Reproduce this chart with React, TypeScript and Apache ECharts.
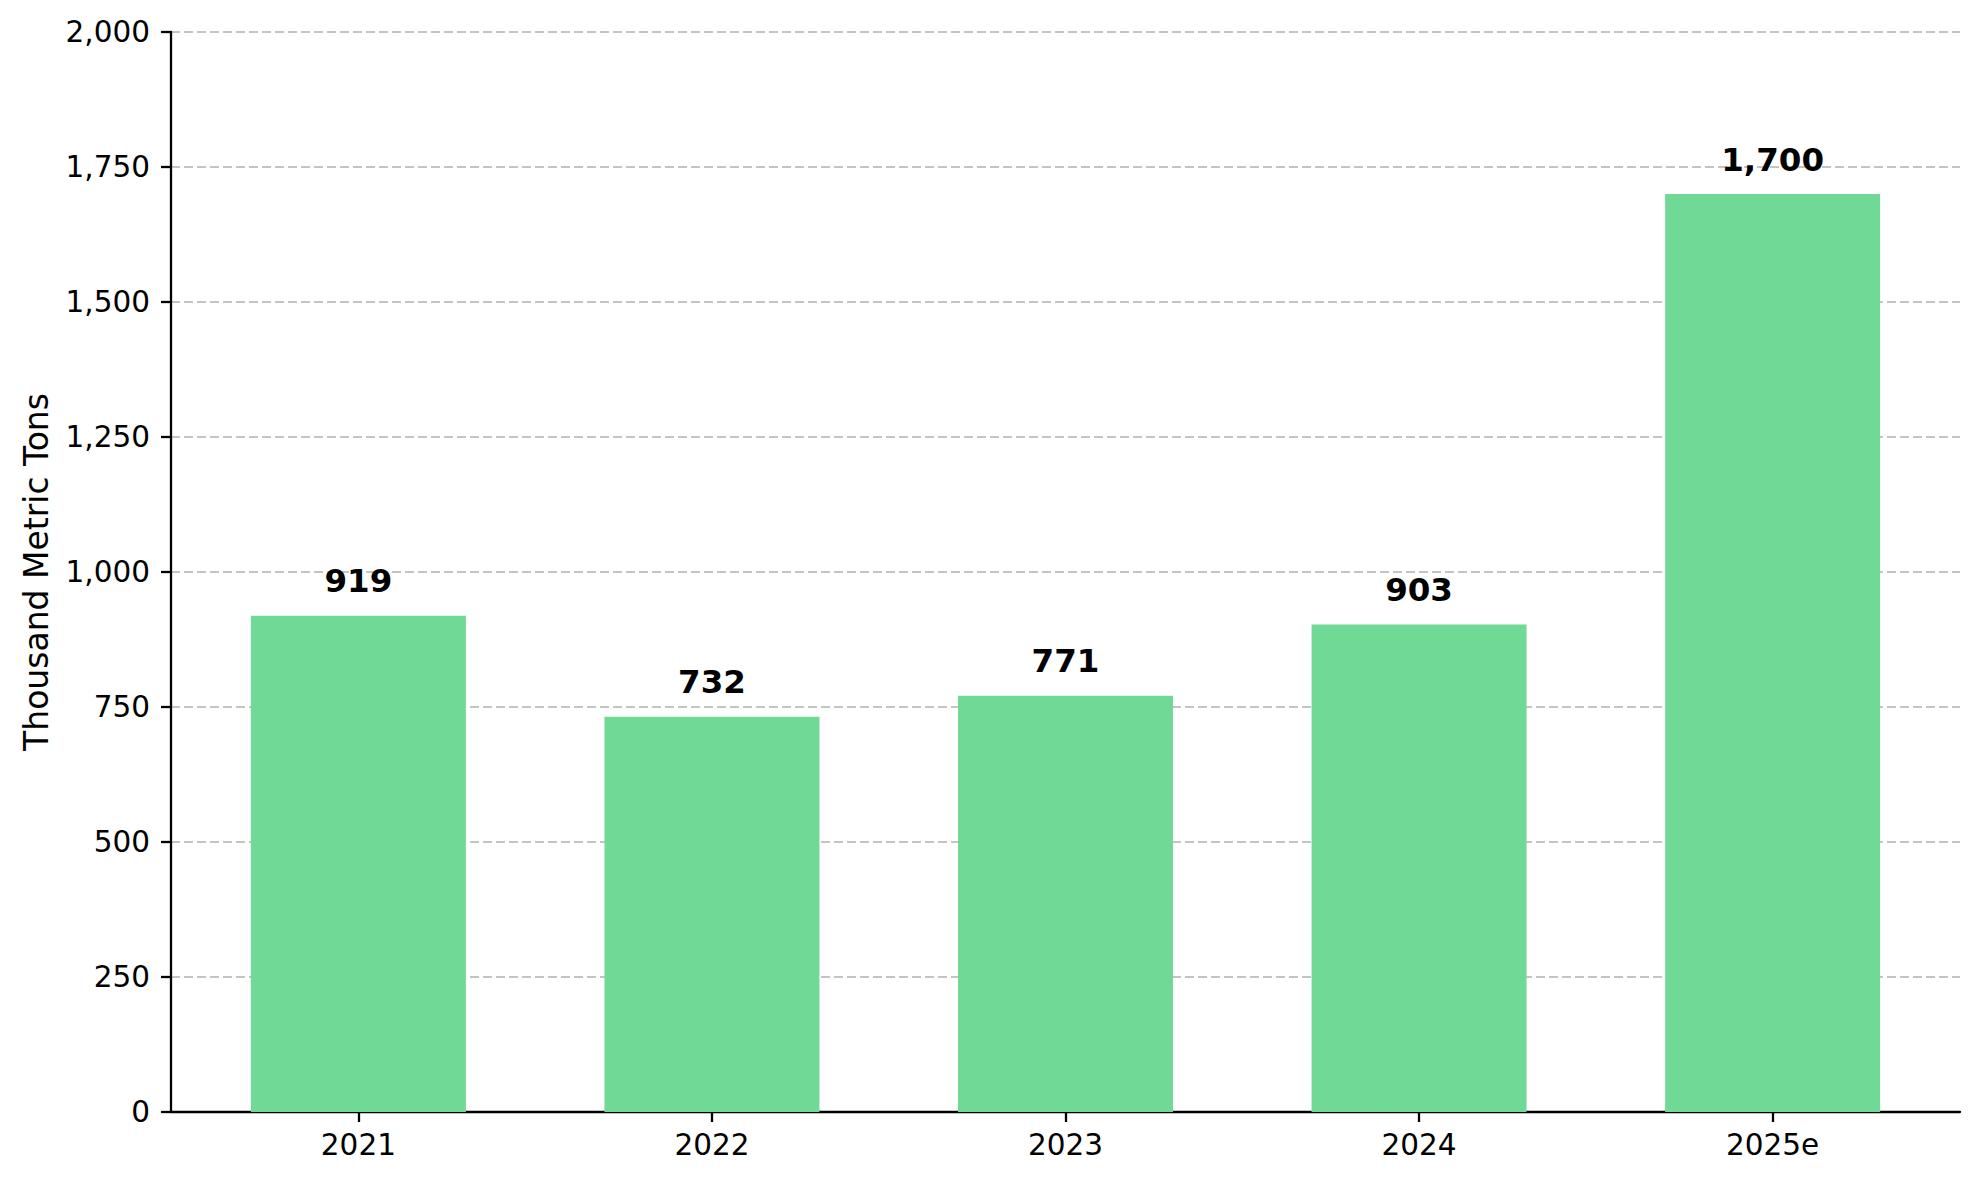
import React, { useEffect, useRef } from "react";
import * as echarts from "echarts";

const categories = ["2021", "2022", "2023", "2024", "2025e"];
const values = [919, 732, 771, 903, 1700];
const yTicks = [0, 250, 500, 750, 1000, 1250, 1500, 1750, 2000];
const yAxisTitle = "Thousand Metric Tons";

const FONT = "DejaVu Sans";
const fmt = (v: number) => v.toLocaleString("en-US");

export default function App() {
  const ref = useRef<HTMLDivElement>(null);
  useEffect(() => {
    if (!ref.current) return;
    const chart = echarts.init(ref.current, undefined, { renderer: "svg" });
    const idx = categories.map((_, i) => i);
    chart.setOption({
      animation: false,
      backgroundColor: "#ffffff",
      grid: { left: 171, right: 19, top: 32, bottom: 68, containLabel: false },
      xAxis: {
        type: "value",
        min: -0.53,
        max: 4.53,
        splitLine: { show: false },
        axisLine: { show: true, onZero: false, lineStyle: { color: "#000", width: 2.3 } },
        axisTick: { show: true, customValues: idx, length: 10, lineStyle: { color: "#000", width: 2.3 } },
        axisLabel: {
          customValues: idx,
          formatter: (v: number) => categories[Math.round(v)] ?? "",
          fontFamily: FONT,
          fontSize: 29.5,
          color: "#000",
          margin: 18,
        },
      },
      yAxis: {
        type: "value",
        min: yTicks[0],
        max: yTicks[yTicks.length - 1],
        interval: yTicks[1] - yTicks[0],
        name: yAxisTitle,
        nameLocation: "middle",
        nameRotate: 90,
        nameGap: 118,
        nameTextStyle: { fontFamily: FONT, fontSize: 33, color: "#000" },
        axisLine: { show: true, onZero: false, lineStyle: { color: "#000", width: 2.3 } },
        axisTick: { show: true, length: 10, lineStyle: { color: "#000", width: 2.3 } },
        axisLabel: {
          formatter: (v: number) => fmt(v),
          fontFamily: FONT,
          fontSize: 29.5,
          color: "#000",
          margin: 21,
        },
        splitLine: {
          show: true,
          lineStyle: { color: "#c4c4c4", width: 2, type: [9, 4] },
        },
      },
      series: [
        {
          type: "bar",
          barWidth: 215,
          data: categories.map((_, i) => [i, values[i]]),
          itemStyle: { color: "#71d996" },
          label: {
            show: true,
            position: "top",
            distance: 18,
            formatter: (p: any) => fmt(p.value[1]),
            fontFamily: FONT,
            fontSize: 32.5,
            fontWeight: "bold",
            color: "#000",
          },
        },
      ],
    });
    return () => chart.dispose();
  }, []);
  return (
    <div
      ref={ref}
      style={{ position: "fixed", left: 0, top: 0, width: 1979, height: 1180, background: "#fff" }}
    />
  );
}
